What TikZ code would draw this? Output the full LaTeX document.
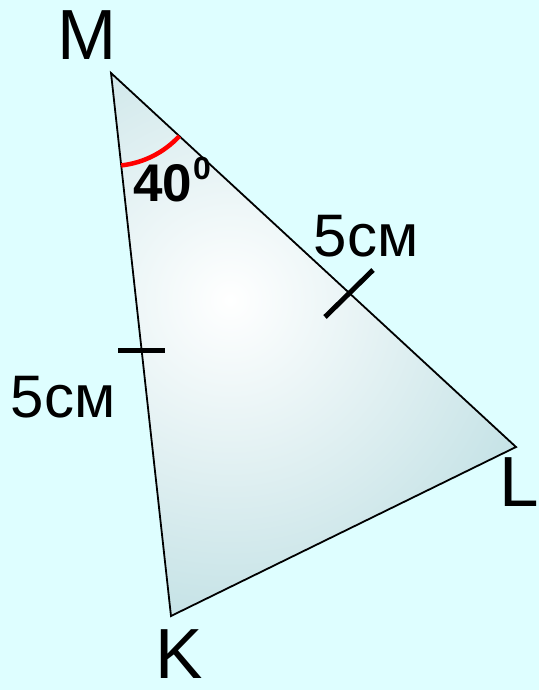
\documentclass[tikz,border=0pt]{standalone}
\usepackage{fontspec}
\setmainfont{Liberation Sans}
\usetikzlibrary{angles,calc}
\definecolor{bgc}{RGB}{222,254,255}
\definecolor{triedge}{RGB}{174,215,220}
\tikzset{
  vlabel/.style={font=\fontsize{71}{78}\selectfont, inner sep=0pt},
  lenlabel/.style={font=\fontsize{60}{66}\selectfont, inner sep=0pt},
  tick/.style={line width=5pt},
  side/.style={line width=1.8pt, line join=miter}
}
\begin{document}
\begin{tikzpicture}[x=1pt,y=-1pt]
\useasboundingbox (0,0) rectangle (539,690);
\fill[bgc] (0,0) rectangle (539,690);
\coordinate (M) at (111,73);
\coordinate (L) at (516,447);
\coordinate (K) at (171,616);
\begin{scope}
  \clip (M) -- (L) -- (K) -- cycle;
  \shade[inner color=white, outer color=triedge] (230,300) circle (450);
\end{scope}
\draw[side] (M) -- (L) -- (K) -- cycle;
\pic[draw=red, line width=4.5pt, angle radius=93pt] {angle = K--M--L};
\coordinate (t1a) at (118,350);
\coordinate (t1b) at (165,350);
\draw[tick] (t1a) -- (t1b);
\coordinate (t2a) at (325,317);
\coordinate (t2b) at (373,270);
\draw[tick] (t2a) -- (t2b);
\node[vlabel] (lM) at (87,35) {M};
\node[vlabel] (lL) at (519,482) {L};
\node[vlabel] (lK) at (179,654) {K};
\node[lenlabel] (len1) at (63,397) {5см};
\node[lenlabel] (len2) at (366,236) {5см};
\node[font=\fontsize{53}{58}\selectfont\bfseries, inner sep=0pt] (ang) at (163,183) {40};
\node[font=\fontsize{32}{36}\selectfont\bfseries, inner sep=0pt] (deg) at (202,168) {0};
\end{tikzpicture}
\end{document}
